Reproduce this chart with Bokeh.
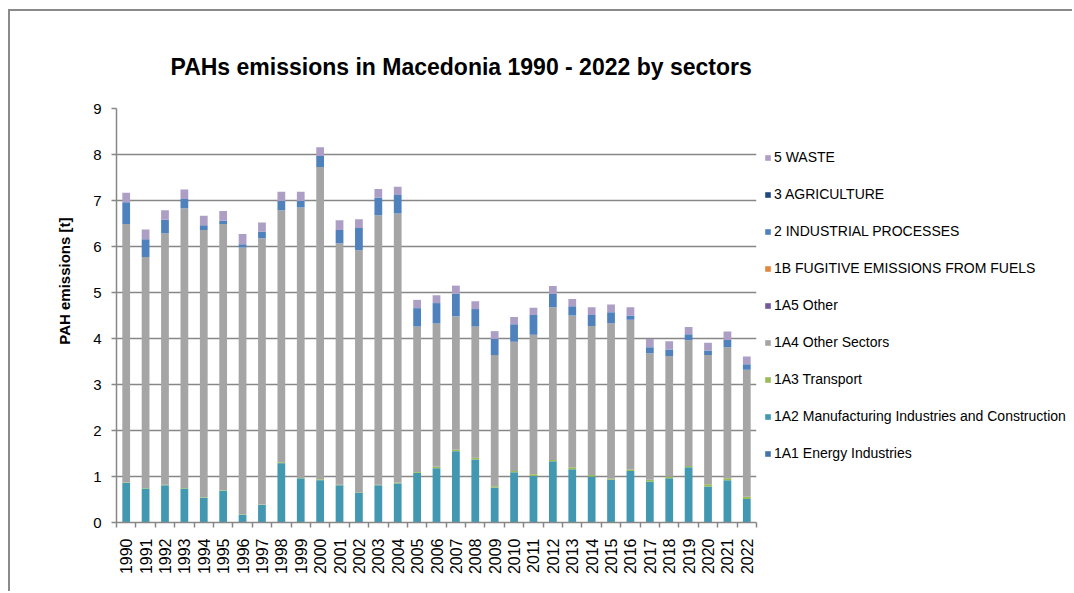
import math
from bokeh.plotting import figure
from bokeh.layouts import row
from bokeh.models import ColumnDataSource, FixedTicker, Legend, LegendItem, Title, Range1d
from bokeh.embed import file_html
from bokeh.resources import INLINE

years = [1990, 1991, 1992, 1993, 1994, 1995, 1996, 1997, 1998, 1999, 2000,
         2001, 2002, 2003, 2004, 2005, 2006, 2007, 2008, 2009, 2010, 2011,
         2012, 2013, 2014, 2015, 2016, 2017, 2018, 2019, 2020, 2021, 2022]

s_1a1 = [0.01, 0.01, 0.01, 0.01, 0.01, 0.01, 0.01, 0.01, 0.01, 0.01, 0.01,
         0.01, 0.01, 0.01, 0.01, 0.01, 0.01, 0.01, 0.01, 0.01, 0.01, 0.01,
         0.01, 0.01, 0.01, 0.01, 0.01, 0.01, 0.01, 0.01, 0.01, 0.01, 0.01]
s_1a2 = [0.85, 0.73, 0.80, 0.73, 0.53, 0.68, 0.16, 0.37, 1.28, 0.95, 0.91,
         0.80, 0.64, 0.80, 0.84, 1.07, 1.17, 1.54, 1.36, 0.75, 1.08, 1.00,
         1.32, 1.15, 0.99, 0.92, 1.11, 0.88, 0.95, 1.19, 0.77, 0.91, 0.50]
s_1a3 = [0.01, 0.01, 0.01, 0.01, 0.01, 0.01, 0.01, 0.01, 0.02, 0.01, 0.02,
         0.01, 0.01, 0.01, 0.02, 0.02, 0.03, 0.03, 0.04, 0.03, 0.03, 0.04,
         0.03, 0.04, 0.03, 0.02, 0.03, 0.04, 0.04, 0.03, 0.05, 0.04, 0.05]
s_1a4 = [5.62, 5.02, 5.47, 6.08, 5.81, 5.79, 5.80, 5.79, 5.48, 5.88, 6.79,
         5.25, 5.26, 5.86, 5.85, 3.16, 3.12, 2.90, 2.85, 2.85, 2.81, 3.03,
         3.32, 3.30, 3.24, 3.38, 3.26, 2.75, 2.62, 2.73, 2.81, 2.85, 2.76]
s_1a5 = [0.00, 0.00, 0.00, 0.00, 0.00, 0.00, 0.00, 0.00, 0.00, 0.00, 0.00,
         0.00, 0.00, 0.00, 0.00, 0.00, 0.00, 0.00, 0.00, 0.00, 0.00, 0.00,
         0.00, 0.00, 0.00, 0.00, 0.00, 0.00, 0.00, 0.00, 0.00, 0.00, 0.00]
s_1b = [0.00, 0.00, 0.00, 0.00, 0.00, 0.00, 0.00, 0.00, 0.00, 0.00, 0.00,
        0.00, 0.00, 0.00, 0.00, 0.00, 0.00, 0.00, 0.00, 0.00, 0.00, 0.00,
        0.00, 0.00, 0.00, 0.00, 0.00, 0.00, 0.00, 0.00, 0.00, 0.00, 0.00]
s_2 = [0.47, 0.39, 0.29, 0.20, 0.10, 0.07, 0.07, 0.14, 0.20, 0.14, 0.24,
       0.29, 0.48, 0.38, 0.40, 0.40, 0.44, 0.49, 0.38, 0.35, 0.38, 0.43,
       0.29, 0.20, 0.24, 0.24, 0.09, 0.13, 0.14, 0.13, 0.10, 0.16, 0.12]
s_3 = [0.00, 0.00, 0.00, 0.00, 0.00, 0.00, 0.00, 0.00, 0.00, 0.00, 0.00,
       0.00, 0.00, 0.00, 0.00, 0.00, 0.00, 0.00, 0.00, 0.00, 0.00, 0.00,
       0.00, 0.00, 0.00, 0.00, 0.00, 0.00, 0.00, 0.00, 0.00, 0.00, 0.00]
s_5 = [0.21, 0.21, 0.21, 0.21, 0.21, 0.21, 0.22, 0.20, 0.20, 0.20, 0.19,
       0.21, 0.19, 0.19, 0.18, 0.18, 0.17, 0.18, 0.17, 0.17, 0.16, 0.16,
       0.17, 0.16, 0.17, 0.17, 0.18, 0.18, 0.18, 0.16, 0.17, 0.18, 0.17]

sector_keys = ["s_1a1", "s_1a2", "s_1a3", "s_1a4", "s_1a5", "s_1b", "s_2", "s_3", "s_5"]
sector_names = ["1A1 Energy Industries",
                "1A2 Manufacturing Industries and Construction",
                "1A3 Transport",
                "1A4 Other Sectors",
                "1A5 Other",
                "1B FUGITIVE EMISSIONS FROM FUELS",
                "2 INDUSTRIAL PROCESSES",
                "3 AGRICULTURE",
                "5 WASTE"]
colors = ["#4672AA", "#4298B0", "#9BBB59", "#A5A5A5", "#72599A",
          "#E3873E", "#4F81BD", "#1F497D", "#AC9EC4"]

y_ticks = [0, 1, 2, 3, 4, 5, 6, 7, 8, 9]
title_text = "PAHs emissions in Macedonia 1990 - 2022  by sectors"
y_label = "PAH emissions [t]"

source = ColumnDataSource(dict(year=years, s_1a1=s_1a1, s_1a2=s_1a2, s_1a3=s_1a3,
                               s_1a4=s_1a4, s_1a5=s_1a5, s_1b=s_1b, s_2=s_2,
                               s_3=s_3, s_5=s_5))

FONT = "Liberation Sans"
GRID = "#878787"
H = 580

p = figure(width=752, height=H, output_backend="svg", toolbar_location=None,
           x_range=Range1d(years[0] - 0.5, years[-1] + 0.5),
           y_range=Range1d(0, 9),
           min_border_left=106, min_border_right=6,
           min_border_top=97, min_border_bottom=69)
p.outline_line_color = None
p.background_fill_color = "white"
p.border_fill_color = "white"

renderers = p.vbar_stack(sector_keys, x="year", width=0.4, color=colors,
                         line_color=None, source=source)

# grid
p.xgrid.grid_line_color = None
p.ygrid.grid_line_color = GRID
p.ygrid.grid_line_width = 1.5

# y axis
p.yaxis.ticker = FixedTicker(ticks=y_ticks)
p.yaxis.axis_line_color = GRID
p.yaxis.axis_line_width = 1.5
p.yaxis.major_tick_line_color = GRID
p.yaxis.major_tick_line_width = 1.5
p.yaxis.major_tick_out = 5
p.yaxis.major_tick_in = 0
p.yaxis.minor_tick_line_color = None
p.yaxis.major_label_standoff = 10
p.yaxis.major_label_text_font = FONT
p.yaxis.major_label_text_font_size = "15px"
p.yaxis.major_label_text_color = "#000000"

# x axis
p.xaxis.ticker = FixedTicker(ticks=years, minor_ticks=[y - 0.5 for y in years] + [years[-1] + 0.5])
p.xaxis.axis_line_color = GRID
p.xaxis.axis_line_width = 1.5
p.xaxis.major_tick_line_color = None
p.xaxis.major_tick_out = 0
p.xaxis.major_tick_in = 0
p.xaxis.minor_tick_line_color = GRID
p.xaxis.minor_tick_line_width = 1.5
p.xaxis.minor_tick_out = 5
p.xaxis.minor_tick_in = 0
p.xaxis.major_label_orientation = math.pi / 2
p.xaxis.major_label_standoff = 11
p.xaxis.major_label_text_font = FONT
p.xaxis.major_label_text_font_size = "16px"
p.xaxis.major_label_text_color = "#000000"

# title
p.title.text = title_text
p.title.align = "left"
p.title.offset = 54
p.title.standoff = 58
p.title.text_font = FONT
p.title.text_font_size = "23px"
p.title.text_font_style = "bold"
p.title.text_color = "#000000"

# y axis title
p.add_layout(Title(text=y_label, align="right", offset=109, standoff=35,
                   text_font=FONT, text_font_size="15px", text_font_style="bold",
                   text_color="#000000"), "left")

# legend panel (separate canvas to the right of the plot area);
# its stacked bars use the same data but lie outside its visible range
pl = figure(width=310, height=H, output_backend="svg", toolbar_location=None,
            x_axis_type=None, y_axis_type=None,
            x_range=Range1d(0, 1), y_range=Range1d(0, 1),
            min_border=0)
pl.outline_line_color = None
pl.background_fill_color = "white"
pl.border_fill_color = "white"
leg_renderers = pl.vbar_stack(sector_keys, x="year", width=0.4, color=colors,
                              line_color=None, source=source)

items = [LegendItem(label=sector_names[i], renderers=[leg_renderers[i]])
         for i in range(len(sector_names) - 1, -1, -1)]
legend = Legend(items=items, location=(2, 59), orientation="vertical",
                glyph_width=7, glyph_height=7, label_height=20, spacing=17,
                label_standoff=3, padding=0, margin=0,
                border_line_color=None, background_fill_alpha=0,
                label_text_font=FONT, label_text_font_size="14px",
                label_text_color="#000000")
pl.add_layout(legend, "center")

layout = row(p, pl)
layout.styles = {"margin-left": "8px", "margin-top": "9px",
                 "border-left": "2px solid #8a8a8a", "border-top": "2px solid #8a8a8a"}

open("out.html", "w").write(file_html(layout, INLINE))
